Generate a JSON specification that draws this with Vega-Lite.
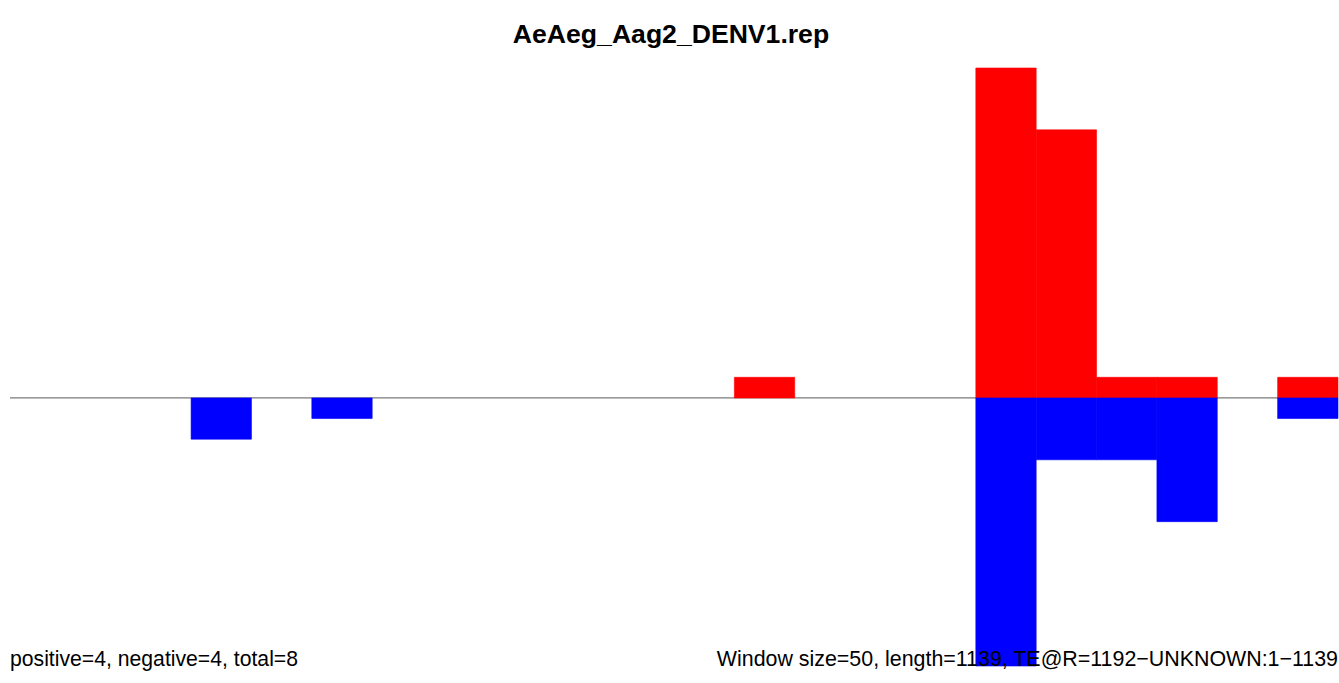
{
  "$schema": "https://vega.github.io/schema/vega-lite/v6.json",
  "autosize": "none",
  "width": 1328,
  "height": 598,
  "padding": {"left": 10, "top": 68, "right": 1, "bottom": 17},
  "background": "white",
  "config": {"view": {"stroke": null}},
  "title": {
    "text": "AeAeg_Aag2_DENV1.rep",
    "font": "Liberation Sans",
    "fontSize": 26.6,
    "fontWeight": "bold",
    "color": "black",
    "anchor": "middle",
    "offset": 19,
    "dx": -3
  },
  "datasets": {
    "bars": [
      {"start": 150, "end": 200, "count": -2, "strand": "negative"},
      {"start": 250, "end": 300, "count": -1, "strand": "negative"},
      {"start": 600, "end": 650, "count": 1, "strand": "positive"},
      {"start": 800, "end": 850, "count": 16, "strand": "positive"},
      {"start": 800, "end": 850, "count": -13, "strand": "negative"},
      {"start": 850, "end": 900, "count": 13, "strand": "positive"},
      {"start": 850, "end": 900, "count": -3, "strand": "negative"},
      {"start": 900, "end": 950, "count": 1, "strand": "positive"},
      {"start": 900, "end": 950, "count": -3, "strand": "negative"},
      {"start": 950, "end": 1000, "count": 1, "strand": "positive"},
      {"start": 950, "end": 1000, "count": -6, "strand": "negative"},
      {"start": 1050, "end": 1100, "count": 1, "strand": "positive"},
      {"start": 1050, "end": 1100, "count": -1, "strand": "negative"}
    ],
    "labels": [
      {"pos": 0, "yv": -13, "label": "positive=4, negative=4, total=8", "side": "left"},
      {"pos": 1100, "yv": -13, "label": "Window size=50, length=1139, TE@R=1192\u2212UNKNOWN:1\u22121139", "side": "right"}
    ]
  },
  "layer": [
    {
      "data": {"values": [{"zero": 0}]},
      "mark": {"type": "rule", "color": "#7a7a7a", "strokeWidth": 1.2},
      "encoding": {
        "y": {"field": "zero", "type": "quantitative", "scale": {"domain": [-13, 16], "nice": false, "zero": false}, "axis": null}
      }
    },
    {
      "data": {"name": "bars"},
      "mark": {"type": "rect", "strokeWidth": 0.6},
      "encoding": {
        "x": {"field": "start", "type": "quantitative", "scale": {"domain": [0, 1100], "nice": false, "zero": false}, "axis": null},
        "x2": {"field": "end"},
        "y": {"field": "count", "type": "quantitative", "scale": {"domain": [-13, 16], "nice": false, "zero": false}, "axis": null},
        "y2": {"datum": 0},
        "color": {"field": "strand", "type": "nominal", "scale": {"domain": ["positive", "negative"], "range": ["#FF0000", "#0000FF"]}, "legend": null},
        "stroke": {"field": "strand", "type": "nominal", "scale": {"domain": ["positive", "negative"], "range": ["#FF0000", "#0000FF"]}, "legend": null}
      }
    },
    {
      "data": {"name": "labels"},
      "transform": [{"filter": "datum.side === 'left'"}],
      "mark": {"type": "text", "align": "left", "baseline": "alphabetic", "font": "Liberation Sans", "fontSize": 21.2, "color": "black"},
      "encoding": {
        "x": {"field": "pos", "type": "quantitative", "scale": {"domain": [0, 1100], "nice": false, "zero": false}, "axis": null},
        "y": {"field": "yv", "type": "quantitative", "scale": {"domain": [-13, 16], "nice": false, "zero": false}, "axis": null},
        "text": {"field": "label"}
      }
    },
    {
      "data": {"name": "labels"},
      "transform": [{"filter": "datum.side === 'right'"}],
      "mark": {"type": "text", "align": "right", "baseline": "alphabetic", "font": "Liberation Sans", "fontSize": 21.4, "color": "black"},
      "encoding": {
        "x": {"field": "pos", "type": "quantitative", "scale": {"domain": [0, 1100], "nice": false, "zero": false}, "axis": null},
        "y": {"field": "yv", "type": "quantitative", "scale": {"domain": [-13, 16], "nice": false, "zero": false}, "axis": null},
        "text": {"field": "label"}
      }
    }
  ]
}
